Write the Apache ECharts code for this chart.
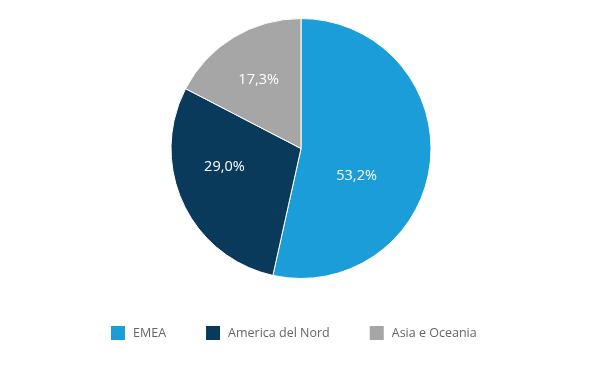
<!DOCTYPE html>
<html><head><meta charset="utf-8">
<script src="https://cdn.jsdelivr.net/npm/echarts@6/dist/echarts.min.js"></script>
<style>html,body{margin:0;padding:0;background:#fff}#c{width:600px;height:374px}</style>
</head><body><div id="c"></div>
<script>
const categories = ['EMEA', 'America del Nord', 'Asia e Oceania'];
const values = [53.2, 29.0, 17.3];
const colors = ['#1b9dd9', '#0a3a5b', '#a6a6a6'];
const labelOffsets = [[-12, 20], [-15, -10], [-7, -11]];

const chart = echarts.init(document.getElementById('c'), null, {renderer: 'canvas'});
chart.setOption({
  animation: false,
  legend: {
    left: 109, top: 324, padding: 0,
    itemWidth: 16, itemHeight: 16, itemGap: 38,
    icon: 'rect',
    textStyle: {color: '#666', fontSize: 12.5, fontFamily: 'Open Sans', padding: [0, 0, 0, 2]},
    data: categories
  },
  series: [{
    type: 'pie',
    center: [301, 148.5],
    radius: [0, 130],
    startAngle: 90,
    clockwise: true,
    itemStyle: {borderColor: '#fff', borderWidth: 1},
    label: {
      position: 'inside', color: '#fff', fontSize: 14.5, fontFamily: 'Open Sans',
      formatter: p => p.value.toFixed(1).replace('.', ',') + '%'
    },
    labelLine: {show: false},
    emphasis: {disabled: true},
    data: categories.map((n, i) => ({
      name: n, value: values[i],
      itemStyle: {color: colors[i]},
      label: {offset: labelOffsets[i]}
    }))
  }]
});
</script></body></html>
